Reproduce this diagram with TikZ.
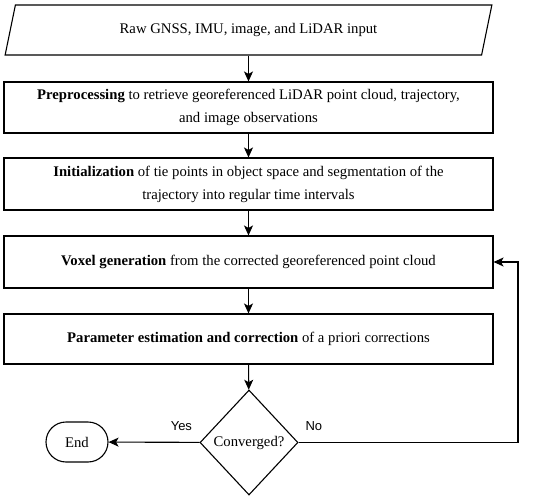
\documentclass[tikz,border=0pt]{standalone}
\usepackage{fontspec}
\setmainfont{Liberation Serif}
\newfontfamily\labelfont{Liberation Sans}
\usetikzlibrary{shapes.geometric,arrows.meta,calc}
\begin{document}
\begin{tikzpicture}[x=1pt,y=-1pt,
  box/.style={draw,line width=1.1pt,minimum width=489pt,align=center,font=\fontsize{14.7}{23}\selectfont,inner sep=0pt},
  arr/.style={-{Stealth[length=10pt,width=9pt,inset=2.5pt]},line width=1.1pt},
  lbl/.style={font=\labelfont\fontsize{13}{15}\selectfont}]
\useasboundingbox (0,0) rectangle (550,498);
\node[draw,line width=1.1pt,trapezium,trapezium left angle=67,trapezium right angle=113,
  minimum width=488pt,minimum height=50pt,trapezium stretches=true,inner sep=0pt,
  font=\fontsize{14.7}{23}\selectfont] (inp) at (248.5,30) {Raw GNSS, IMU, image, and LiDAR input};
\node[box,minimum height=51pt] (pre) at (248.5,107.5) {\textbf{Preprocessing} to retrieve georeferenced LiDAR point cloud, trajectory,\\and image observations};
\node[box,minimum height=52pt] (ini) at (248.5,184) {\textbf{Initialization} of tie points in object space and segmentation of the\\trajectory into regular time intervals};
\node[box,minimum height=52pt] (vox) at (248.5,262) {\textbf{Voxel generation} from the corrected georeferenced point cloud};
\node[box,minimum height=50pt] (par) at (248.5,339) {\textbf{Parameter estimation and correction} of a priori corrections};
\node[draw,line width=1.1pt,diamond,minimum width=98pt,minimum height=105pt,inner sep=0pt,
  font=\fontsize{14.7}{16}\selectfont] (conv) at (249,442.5) {Converged?};
\node[draw,line width=1.1pt,rounded corners=20pt,minimum width=62pt,minimum height=40pt,
  font=\fontsize{14.7}{16}\selectfont] (end) at (77,442) {End};
\draw[arr] (inp.south -| pre.north) -- (pre.north);
\draw[arr] (pre) -- (ini);
\draw[arr] (ini) -- (vox);
\draw[arr] (vox) -- (par);
\draw[arr] (par) -- (conv);
\draw[arr] (conv) -- node[lbl,pos=0.2,above=8pt]{Yes} (end);
\coordinate (loop) at (518,0);
\draw[arr] (conv.east) -- (conv.east -| loop) node[lbl,pos=0.07,above=8pt]{No} -- (loop |- vox.east) -- (vox.east);
\end{tikzpicture}
\end{document}
